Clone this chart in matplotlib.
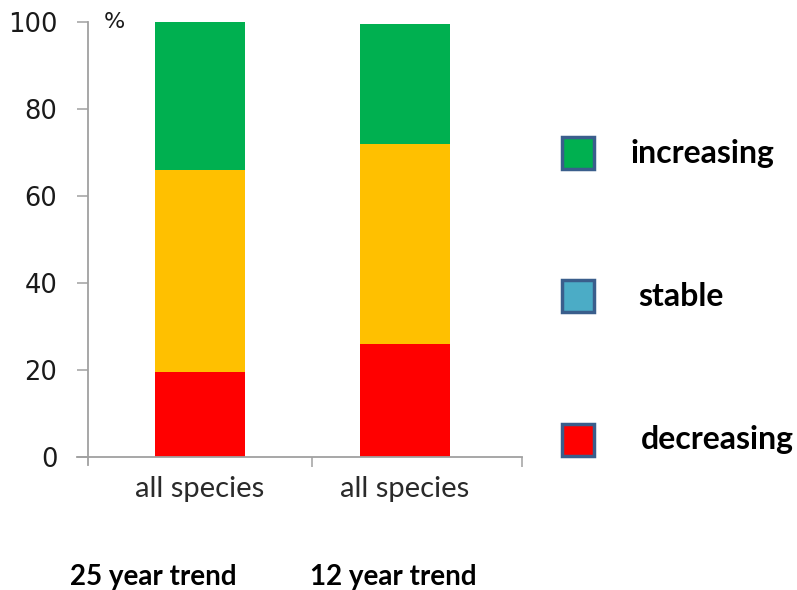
import matplotlib
matplotlib.use("Agg")
import matplotlib.pyplot as plt
from matplotlib.patches import Rectangle

# stacked shares (%) for each trend period
groups = ["all species", "all species"]
periods = ["25 year trend", "12 year trend"]
decreasing = [19.5, 26.0]
stable = [46.5, 46.0]
increasing = [34.0, 27.5]

legend_labels = ["increasing", "stable", "decreasing"]
legend_colors = ["#00B050", "#4BACC6", "#FF0000"]

W, H = 797, 590
fig = plt.figure(figsize=(W / 100, H / 100), dpi=100)

# axes placed in pixel terms
x0, x1, yb, yt = 88, 522, 457, 22
ax = fig.add_axes([x0 / W, 1 - yb / H, (x1 - x0) / W, (yb - yt) / H])
px = 204.5
ax.set_xlim((x0 - 200) / px, (x1 - 200) / px)
ax.set_ylim(0, 100)

pos = [0, 1]
bw = 90 / px
ax.bar(pos, decreasing, bw, color="#FF0000")
ax.bar(pos, stable, bw, bottom=decreasing, color="#FFC000")
bot = [d + s for d, s in zip(decreasing, stable)]
ax.bar(pos, increasing, bw, bottom=bot, color="#00B050")

for s in ["top", "right"]:
    ax.spines[s].set_visible(False)
ax.spines["left"].set_color("#A0A0A0")
ax.spines["bottom"].set_color("#A0A0A0")
ax.spines["left"].set_bounds(-1.9, 100)
ax.spines["bottom"].set_bounds((77 - 200) / px, (x1 - 200) / px)
ax.spines["left"].set_linewidth(1.3)
ax.spines["bottom"].set_linewidth(1.3)

ax.set_yticks(range(0, 101, 20))
ax.tick_params(axis="y", length=8, width=1.1, color="#A0A0A0", pad=14,
               labelsize=18.5, labelcolor="#1a1a1a")
ax.set_xticks(pos)
ax.set_xticklabels(groups, fontfamily="Lato", fontsize=21, color="#2a2a2a")
ax.tick_params(axis="x", length=0, pad=14)
# category boundary ticks below the axis
ax.set_xticks([(312 - 200) / px, (x1 - 200) / px], minor=True)
ax.tick_params(axis="x", which="minor", length=7, width=1.1, color="#A0A0A0")

ax.text(104 / W, 1 - 22 / H, "%", transform=fig.transFigure, fontsize=16,
        color="#1a1a1a", va="center", ha="left")

for label, xp in zip(periods, [70, 310]):
    fig.text(xp / W, 1 - 577 / H, label, fontfamily="Lato", fontweight="bold",
             fontsize=20, color="black", va="center", ha="left")

# legend swatches on the right
for label, color, yc, tx in zip(legend_labels, legend_colors, [153, 296, 440],
                                [630, 638, 641]):
    fig.patches.append(Rectangle(((562) / W, 1 - (yc + 16) / H), 32 / W, 32 / H,
                                 transform=fig.transFigure, facecolor=color,
                                 edgecolor="#3A5E8C", linewidth=2.5))
    fig.text(tx / W, 1 - yc / H, label, fontfamily="Lato", fontweight="bold",
             fontsize=23, color="black", va="center", ha="left")

fig.savefig("out.png", dpi=100)
